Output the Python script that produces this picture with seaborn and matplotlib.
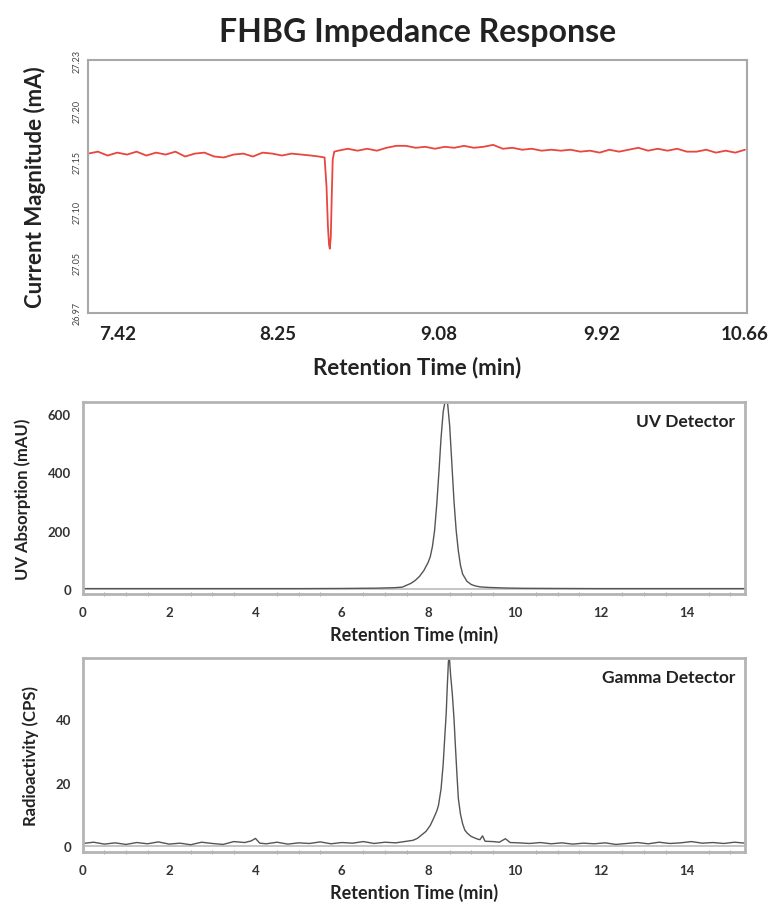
import numpy as np
import pandas as pd
import matplotlib
matplotlib.use('Agg')
import matplotlib.pyplot as plt
from matplotlib.ticker import MultipleLocator
import seaborn as sns

# Impedance trace (min, mA)
imp_time = [7.27, 7.32, 7.37, 7.42, 7.47, 7.52, 7.57, 7.62, 7.67, 7.72, 7.77, 7.82,
            7.87, 7.92, 7.97, 8.02, 8.07, 8.12, 8.17, 8.22, 8.27, 8.32, 8.37, 8.42,
            8.46, 8.49, 8.50, 8.507, 8.513, 8.517, 8.522, 8.527, 8.532, 8.54, 8.56,
            8.61, 8.66, 8.71, 8.76, 8.81, 8.86, 8.91, 8.96, 9.01, 9.06, 9.11, 9.16,
            9.21, 9.26, 9.31, 9.36, 9.41, 9.46, 9.51, 9.56, 9.61, 9.66, 9.71, 9.76,
            9.81, 9.86, 9.91, 9.96, 10.01, 10.06, 10.11, 10.16, 10.21, 10.26, 10.31,
            10.36, 10.41, 10.46, 10.51, 10.56, 10.61, 10.66]
imp_current = [27.134, 27.136, 27.132, 27.135, 27.133, 27.136, 27.132, 27.135, 27.133,
               27.136, 27.131, 27.134, 27.135, 27.131, 27.130, 27.133, 27.134, 27.131,
               27.135, 27.134, 27.132, 27.134, 27.133, 27.132, 27.131, 27.130, 27.100,
               27.060, 27.040, 27.036, 27.048, 27.090, 27.128, 27.136, 27.137, 27.139,
               27.137, 27.139, 27.137, 27.140, 27.142, 27.142, 27.140, 27.141, 27.139,
               27.141, 27.140, 27.142, 27.140, 27.141, 27.143, 27.139, 27.140, 27.138,
               27.139, 27.137, 27.138, 27.137, 27.138, 27.136, 27.137, 27.135, 27.138,
               27.136, 27.138, 27.140, 27.137, 27.139, 27.137, 27.139, 27.136, 27.136,
               27.138, 27.135, 27.137, 27.135, 27.138]
imp_ticks_x = [7.42, 8.25, 9.08, 9.92, 10.66]
imp_ticks_y = ['26.97', '27.05', '27.10', '27.15', '27.20', '27.23']

# UV detector trace (min, mAU)
uv_time = [0, 1, 2, 3, 4, 5, 6, 6.8, 7.2, 7.4, 7.6, 7.7, 7.8, 7.9, 8.0, 8.05, 8.1,
           8.15, 8.2, 8.25, 8.3, 8.35, 8.4, 8.45, 8.5, 8.55, 8.6, 8.65, 8.7, 8.75,
           8.8, 8.9, 9.0, 9.1, 9.2, 9.4, 9.6, 9.8, 10.2, 11, 12, 13, 14, 15.35]
uv_signal = [0, 0, 0, 0, 0, 0, 0.5, 1.5, 3, 5, 18, 28, 42, 62, 90, 110, 145, 200,
             290, 400, 520, 610, 650, 640, 560, 430, 300, 200, 130, 80, 50, 25, 14,
             9, 6, 4, 3, 2, 1, 0.5, 0, 0, 0, 0]

# Gamma detector trace (min, CPS)
gamma_time = [0.0, 0.25, 0.5, 0.75, 1.0, 1.25, 1.5, 1.75, 2.0, 2.25, 2.5, 2.75, 3.0,
              3.25, 3.5, 3.75, 3.9, 4.0, 4.1, 4.25, 4.5, 4.75, 5.0, 5.25, 5.5, 5.75,
              6.0, 6.25, 6.5, 6.75, 7.0, 7.25, 7.5, 7.65, 7.75, 7.85, 7.95, 8.05, 8.12,
              8.2, 8.24, 8.3, 8.35, 8.38, 8.42, 8.44, 8.47, 8.49, 8.52, 8.56, 8.6, 8.63,
              8.67, 8.7, 8.75, 8.8, 8.85, 8.91, 9.0, 9.14, 9.2, 9.26, 9.32, 9.5, 9.65,
              9.79, 9.9, 10.1, 10.35, 10.6, 10.85, 11.1, 11.35, 11.6, 11.85, 12.1,
              12.35, 12.6, 12.85, 13.1, 13.35, 13.6, 13.85, 14.1, 14.35, 14.6, 14.85,
              15.1, 15.35]
gamma_counts = [0.8, 1.2, 0.6, 1.0, 0.5, 1.1, 0.7, 1.3, 0.6, 0.9, 0.4, 1.2, 0.8, 0.5,
                1.4, 1.1, 1.6, 2.4, 0.9, 0.7, 1.2, 0.6, 1.0, 0.8, 1.3, 0.7, 1.1, 0.9,
                1.4, 0.8, 1.2, 1.0, 1.5, 1.8, 2.4, 3.5, 4.6, 6.5, 8.5, 11, 12.8, 18, 26,
                33, 42, 49, 58, 60, 54, 48, 40, 32, 22, 15, 10, 7, 5, 4, 3, 2.2, 2.0,
                3.2, 1.5, 1.4, 1.2, 2.3, 1.1, 1.0, 0.8, 1.1, 0.7, 1.0, 0.6, 0.9, 0.7,
                1.0, 0.5, 0.8, 1.1, 0.7, 1.2, 0.8, 1.0, 1.4, 0.9, 1.1, 0.8, 1.2, 0.9]

imp = pd.DataFrame({'time': imp_time, 'value': imp_current})
uv = pd.DataFrame({'time': uv_time, 'value': uv_signal})
gamma = pd.DataFrame({'time': gamma_time, 'value': gamma_counts})

sns.set_style('white')
plt.rcParams['font.family'] = ['Lato', 'DejaVu Sans']

fig = plt.figure(figsize=(7.74, 9.04), dpi=100)
ax1 = fig.add_axes([0.114, 0.653, 0.851, 0.279])
ax2 = fig.add_axes([0.107, 0.342, 0.856, 0.212])
ax3 = fig.add_axes([0.107, 0.056, 0.856, 0.215])

# Top panel: impedance
sns.lineplot(data=imp, x='time', y='value', ax=ax1, color='#e8463f', linewidth=1.3)
ax1.set_xlim(7.27, 10.67)
ax1.set_ylim(26.97, 27.23)
ax1.set_xticks(imp_ticks_x)
ax1.set_xticklabels(imp_ticks_x, fontsize=13.5, fontweight='bold', color='#222')
ax1.set_yticks(np.linspace(26.97, 27.23, len(imp_ticks_y)))
ax1.set_yticklabels(imp_ticks_y, fontsize=6.5, rotation=90, va='center', color='#444')
ax1.tick_params(axis='x', direction='in', length=3, color='#999', pad=9)
ax1.tick_params(axis='y', direction='in', length=3, color='#999', pad=5)
ax1.set_xlabel('Retention Time (min)', fontsize=16, fontweight='bold', color='#222', labelpad=10)
ax1.set_ylabel('Current Magnitude (mA)', fontsize=16, fontweight='bold', color='#222', labelpad=19)
ax1.set_title('FHBG Impedance Response', fontsize=23, fontweight='bold', color='#222', pad=14)
for s in ax1.spines.values():
    s.set_color('#a8a8a8')
    s.set_linewidth(1.5)

# Middle and bottom panels: UV and gamma detectors
panels = [(ax2, uv, 'UV Absorption (mAU)', 'UV Detector', (-18, 642), 200),
          (ax3, gamma, 'Radioactivity (CPS)', 'Gamma Detector', (-2, 59.2), 20)]
for ax, df, ylab, name, ylim, ystep in panels:
    sns.lineplot(data=df, x='time', y='value', ax=ax, color='#555', linewidth=1.0)
    ax.axhline(0, color='#bbb', linewidth=1.2, zorder=0)
    ax.set_xlim(0, 15.35)
    ax.set_ylim(*ylim)
    ax.xaxis.set_major_locator(MultipleLocator(2))
    ax.xaxis.set_minor_locator(MultipleLocator(0.5))
    ax.yaxis.set_major_locator(MultipleLocator(ystep))
    ax.tick_params(axis='both', which='major', direction='inout', length=5, color='#888',
                   labelsize=9.5, labelcolor='#333', pad=6)
    ax.tick_params(axis='x', which='minor', direction='inout', length=3, color='#999', bottom=True)
    for lab in ax.get_xticklabels() + ax.get_yticklabels():
        lab.set_fontweight('bold')
    ax.set_xlabel('Retention Time (min)', fontsize=13, fontweight='bold', color='#222', labelpad=5)
    ax.set_ylabel(ylab, fontsize=12, fontweight='bold', color='#222', labelpad=12)
    ax.text(0.985, 0.9, name, transform=ax.transAxes, ha='right', va='center',
            fontsize=12.5, fontweight='bold', color='#222')
    for s in ax.spines.values():
        s.set_color('#b4b4b4')
        s.set_linewidth(2)

fig.savefig('out.png', dpi=100)
